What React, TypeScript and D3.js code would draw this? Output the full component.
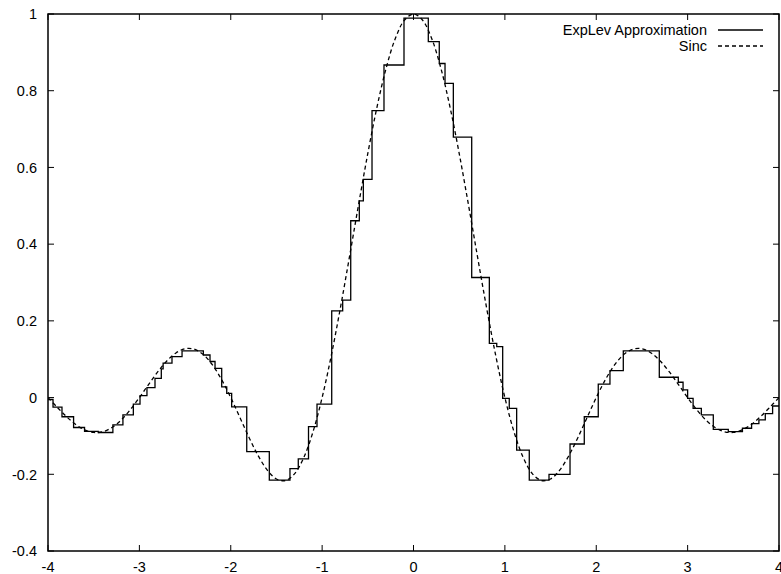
import React from "react";
import * as d3 from "d3";

const xTicks = [-4, -3, -2, -1, 0, 1, 2, 3, 4];
const yTicks = [-0.4, -0.2, 0, 0.2, 0.4, 0.6, 0.8, 1];
const yTickLabels = ["-0.4", "-0.2", "0", "0.2", "0.4", "0.6", "0.8", "1"];

const seriesNames = ["ExpLev Approximation", "Sinc"];

// Step approximation: start of each step and its level (last step runs to x = 4)
const stepX = [-4.0, -3.945, -3.847, -3.72, -3.6, -3.45, -3.29, -3.18, -3.066, -2.993, -2.917, -2.829, -2.76, -2.74, -2.643, -2.533, -2.3, -2.227, -2.172, -2.099, -2.044, -1.99, -1.825, -1.578, -1.352, -1.261, -1.149, -1.056, -0.895, -0.775, -0.687, -0.593, -0.549, -0.454, -0.323, -0.104, 0.162, 0.282, 0.345, 0.436, 0.637, 0.83, 0.911, 0.976, 1.048, 1.129, 1.267, 1.483, 1.713, 1.869, 2.022, 2.15, 2.296, 2.69, 2.898, 2.95, 3.0, 3.06, 3.15, 3.281, 3.445, 3.6, 3.7, 3.78, 3.85, 3.93];
const stepY = [-0.005, -0.025, -0.05, -0.078, -0.088, -0.091, -0.071, -0.045, -0.017, 0.005, 0.026, 0.05, 0.075, 0.09, 0.107, 0.122, 0.111, 0.094, 0.076, 0.028, 0.011, -0.024, -0.141, -0.215, -0.185, -0.16, -0.076, -0.017, 0.226, 0.254, 0.461, 0.513, 0.569, 0.748, 0.867, 0.989, 0.928, 0.871, 0.819, 0.679, 0.313, 0.1415, 0.133, -0.002, -0.028, -0.137, -0.215, -0.2, -0.121, -0.05, 0.035, 0.07, 0.122, 0.053, 0.04, 0.02, -0.002, -0.028, -0.045, -0.083, -0.089, -0.08, -0.068, -0.058, -0.042, -0.022];
const stepEndX = 4;

// Sinc curve samples
const sincX = [-4, -3.9, -3.8, -3.7, -3.6, -3.5, -3.4, -3.3, -3.2, -3.1, -3, -2.9, -2.8, -2.7, -2.6, -2.5, -2.4, -2.3, -2.2, -2.1, -2, -1.9, -1.8, -1.7, -1.6, -1.5, -1.4, -1.3, -1.2, -1.1, -1, -0.9, -0.8, -0.7, -0.6, -0.5, -0.4, -0.3, -0.2, -0.1, 0, 0.1, 0.2, 0.3, 0.4, 0.5, 0.6, 0.7, 0.8, 0.9, 1, 1.1, 1.2, 1.3, 1.4, 1.5, 1.6, 1.7, 1.8, 1.9, 2, 2.1, 2.2, 2.3, 2.4, 2.5, 2.6, 2.7, 2.8, 2.9, 3, 3.1, 3.2, 3.3, 3.4, 3.5, 3.6, 3.7, 3.8, 3.9, 4];
const sincY = [0, -0.0252, -0.0492, -0.0696, -0.0841, -0.0909, -0.089, -0.078, -0.0585, -0.0317, 0, 0.0339, 0.0668, 0.0954, 0.1164, 0.1273, 0.1261, 0.112, 0.085, 0.0468, 0, -0.0518, -0.1039, -0.1515, -0.1892, -0.2122, -0.2162, -0.1981, -0.1559, -0.0894, 0, 0.1093, 0.2339, 0.3679, 0.5046, 0.6366, 0.7568, 0.8584, 0.9355, 0.9836, 1, 0.9836, 0.9355, 0.8584, 0.7568, 0.6366, 0.5046, 0.3679, 0.2339, 0.1093, 0, -0.0894, -0.1559, -0.1981, -0.2162, -0.2122, -0.1892, -0.1515, -0.1039, -0.0518, 0, 0.0468, 0.085, 0.112, 0.1261, 0.1273, 0.1164, 0.0954, 0.0668, 0.0339, 0, -0.0317, -0.0585, -0.078, -0.089, -0.0909, -0.0841, -0.0696, -0.0492, -0.0252, 0];

const W = 781;
const H = 574;
const left = 48;
const right = 779;
const top = 14;
const bottom = 551;
const FONT = "'Liberation Sans', Arial, Helvetica, sans-serif";
const FS = 14.5;

export default function App() {
  const x = d3.scaleLinear().domain([-4, 4]).range([left, right]);
  const y = d3.scaleLinear().domain([-0.4, 1]).range([bottom, top]);

  const stepPts: [number, number][] = stepX.map((v, i) => [v, stepY[i]] as [number, number]);
  stepPts.push([stepEndX, stepY[stepY.length - 1]]);
  const stepLine = d3
    .line<[number, number]>()
    .x((d) => x(d[0]))
    .y((d) => y(d[1]))
    .curve(d3.curveStepAfter);

  const sincPts: [number, number][] = sincX.map((v, i) => [v, sincY[i]] as [number, number]);
  const sincLine = d3
    .line<[number, number]>()
    .x((d) => x(d[0]))
    .y((d) => y(d[1]))
    .curve(d3.curveCatmullRom);

  const tickLen = 6;
  const legendTextX = 707;
  const legendLineX1 = 718;
  const legendLineX2 = 763;
  const legendY = [30, 46];

  return (
    <svg
      width={W}
      height={H}
      viewBox={`0 0 ${W} ${H}`}
      style={{ position: "absolute", left: 0, top: 0, background: "#fff" }}
      fontFamily={FONT}
      fontSize={FS}
    >
      <rect x={0} y={0} width={W} height={H} fill="#fff" />
      <defs>
        <clipPath id="plotclip">
          <rect x={left} y={top} width={right - left} height={bottom - top} />
        </clipPath>
      </defs>

      {/* ticks */}
      {xTicks.map((t) => (
        <g key={"xt" + t}>
          <line x1={x(t)} x2={x(t)} y1={bottom} y2={bottom - tickLen} stroke="#000" strokeWidth={1} />
          <line x1={x(t)} x2={x(t)} y1={top} y2={top + tickLen} stroke="#000" strokeWidth={1} />
          <text x={x(t)} y={572} textAnchor="middle" fill="#000">
            {String(t)}
          </text>
        </g>
      ))}
      {yTicks.map((t, i) => (
        <g key={"yt" + t}>
          <line x1={left} x2={left + tickLen} y1={y(t)} y2={y(t)} stroke="#000" strokeWidth={1} />
          <line x1={right} x2={right - tickLen} y1={y(t)} y2={y(t)} stroke="#000" strokeWidth={1} />
          <text x={37} y={y(t)} dy="0.36em" textAnchor="end" fill="#000">
            {yTickLabels[i]}
          </text>
        </g>
      ))}

      {/* data */}
      <g clipPath="url(#plotclip)">
        <path d={stepLine(stepPts) || ""} fill="none" stroke="#000" strokeWidth={1.3} />
        <path
          d={sincLine(sincPts) || ""}
          fill="none"
          stroke="#000"
          strokeWidth={1.3}
          strokeDasharray="4,3"
        />
      </g>

      {/* frame */}
      <rect
        x={left}
        y={top}
        width={right - left}
        height={bottom - top}
        fill="none"
        stroke="#000"
        strokeWidth={1.5}
      />

      {/* legend */}
      {seriesNames.map((name, i) => (
        <g key={name}>
          <text x={legendTextX} y={legendY[i]} dy="0.36em" textAnchor="end" fill="#000">
            {name}
          </text>
          <line
            x1={legendLineX1}
            x2={legendLineX2}
            y1={legendY[i]}
            y2={legendY[i]}
            stroke="#000"
            strokeWidth={1.3}
            strokeDasharray={i === 1 ? "4,3" : undefined}
          />
        </g>
      ))}
    </svg>
  );
}
